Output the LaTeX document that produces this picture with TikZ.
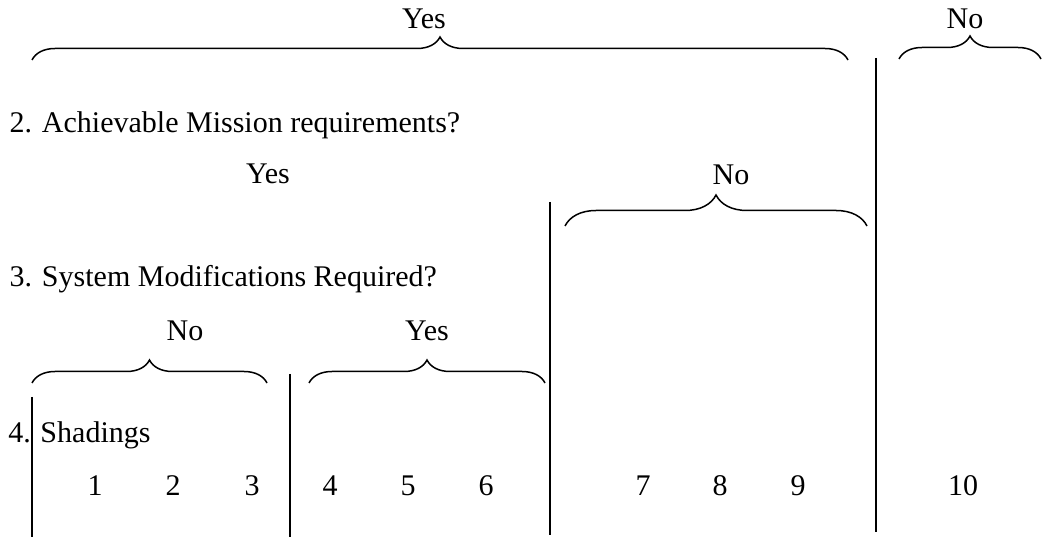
\documentclass[tikz,border=0pt]{standalone}
\usepackage{fontspec}
\setmainfont{Liberation Serif}
\usetikzlibrary{decorations.pathreplacing}

\begin{document}
\begin{tikzpicture}[x=0.4pt, y=-0.4pt, font=\fontsize{12}{14}\selectfont]
%styles
\tikzstyle{textLine}=[inner sep=0pt, anchor=base, text=black]
\tikzstyle{textLeft}=[inner sep=0pt, anchor=base west, text=black]
\tikzstyle{bracket}=[decorate, decoration={brace, amplitude=9.2pt}, line width=0.6pt]
\tikzstyle{sepline}=[line width=0.6pt]

\useasboundingbox (0,0) rectangle (1051,537);

%level 1
\node[textLine] (yes1) at (424,29) {Yes};
\node[textLine] (no1) at (965,29) {No};
\coordinate (yes1l) at (32,60);
\coordinate (yes1r) at (848,60);
\coordinate (no1l) at (899,59);
\coordinate (no1r) at (1041,59);
\draw[bracket] (yes1l) -- (yes1r);
\draw[bracket] (no1l) -- (no1r);

%level 2
\node[textLeft] (q2) at (9,133) {2. Achievable Mission requirements?};
\node[textLine] (yes2) at (268,184) {Yes};
\node[textLine] (no2) at (731,185) {No};
\coordinate (no2l) at (565,226);
\coordinate (no2r) at (867,226);
\draw[bracket, decoration={amplitude=12.4pt}] (no2l) -- (no2r);

%level 3
\node[textLeft] (q3) at (9,287) {3. System Modifications Required?};
\node[textLine] (no3) at (185,341) {No};
\node[textLine] (yes3) at (427,341) {Yes};
\coordinate (no3l) at (32,383);
\coordinate (no3r) at (267,383);
\coordinate (yes3l) at (309,383);
\coordinate (yes3r) at (545,383);
\draw[bracket] (no3l) -- (no3r);
\draw[bracket] (yes3l) -- (yes3r);

%level 4
\node[textLeft] (q4) at (8,443) {4.};
\node[textLeft] (shad) at (40,443) {Shadings};
\foreach \n/\x in {1/95, 2/173, 3/252, 4/330, 5/408, 6/486, 7/643, 8/720, 9/798, 10/963}
  \node[textLine] (s\n) at (\x,495) {\n};

%separators
\coordinate (v1t) at (876,58);
\coordinate (v1b) at (876,532);
\coordinate (v2t) at (550,202);
\coordinate (v2b) at (550,535);
\coordinate (v3t) at (290,374);
\coordinate (v3b) at (290,537);
\coordinate (v4t) at (32,397);
\coordinate (v4b) at (32,537);
\draw[sepline] (v1t) -- (v1b);
\draw[sepline] (v2t) -- (v2b);
\draw[sepline] (v3t) -- (v3b);
\draw[sepline] (v4t) -- (v4b);
\end{tikzpicture}
\end{document}
